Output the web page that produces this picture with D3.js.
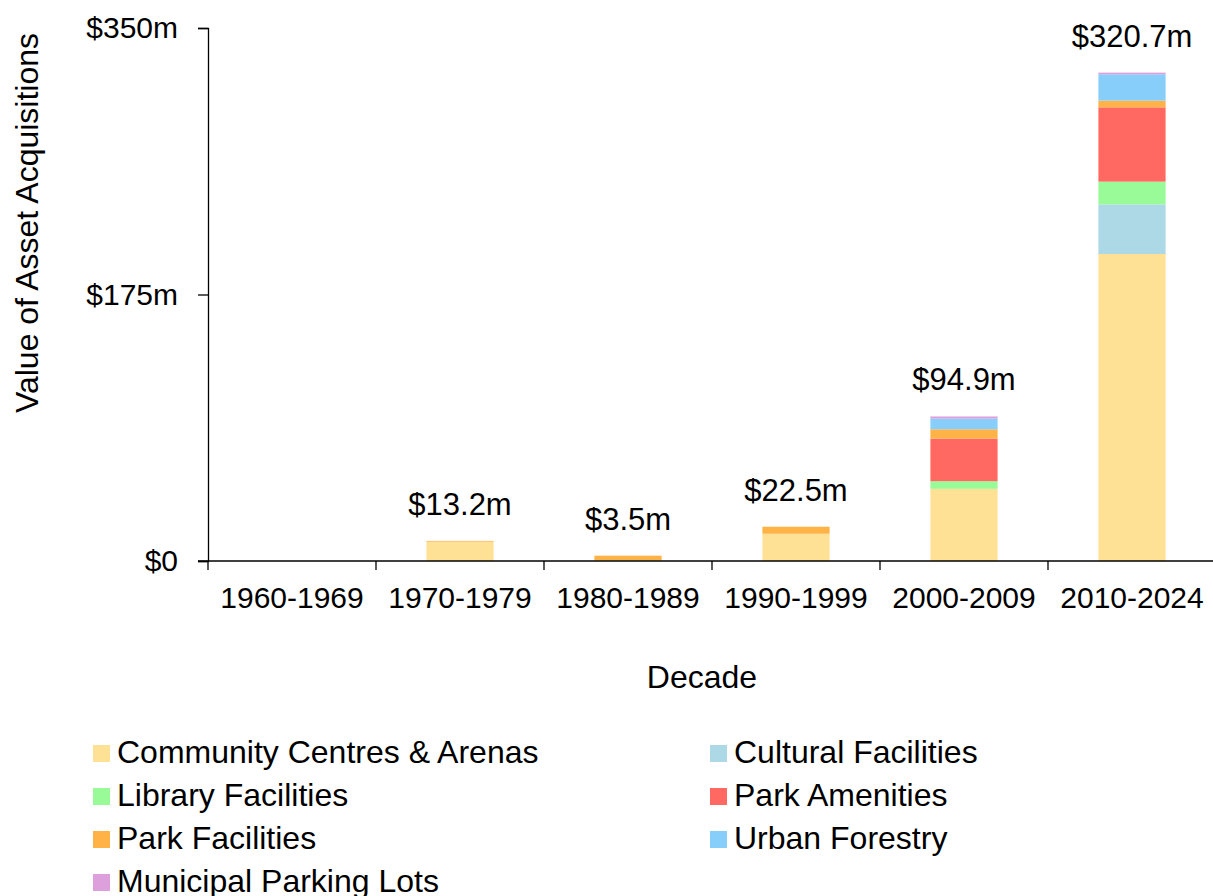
<!DOCTYPE html>
<html>
<head>
<meta charset="utf-8">
<script src="https://cdn.jsdelivr.net/npm/d3@7"></script>
<style>
  html, body { margin: 0; padding: 0; background: #fff; }
  svg { display: block; font-family: "Liberation Sans", Arial, sans-serif; }
</style>
</head>
<body>
<svg id="chart" width="1213" height="896"></svg>
<script>
// Decades on the x axis
const decades = ["1960-1969", "1970-1979", "1980-1989", "1990-1999", "2000-2009", "2010-2024"];

// Asset classes, in stacking order (bottom to top)
const assetClasses = [
  "Community Centres & Arenas",
  "Cultural Facilities",
  "Library Facilities",
  "Park Amenities",
  "Park Facilities",
  "Urban Forestry",
  "Municipal Parking Lots"
];
const classColors = ["#FFE195", "#ADD8E6", "#98FB98", "#FF6961", "#FFB347", "#87CEFA", "#DDA0DD"];

// Acquisition value per decade, $ millions
const communityCentres = [0, 12.7, 0.6, 17.9, 47.4, 201.6];
const culturalFacilities = [0, 0, 0, 0, 0, 32.6];
const libraryFacilities = [0, 0, 0, 0, 5.0, 14.9];
const parkAmenities = [0, 0, 0, 0, 28.0, 48.8];
const parkFacilities = [0, 0.5, 2.9, 4.6, 6.1, 4.4];
const urbanForestry = [0, 0, 0, 0, 7.0, 17.3];
const parkingLots = [0, 0, 0, 0, 1.4, 1.1];

// Totals shown above the bars
const totalLabels = [null, "$13.2m", "$3.5m", "$22.5m", "$94.9m", "$320.7m"];

// Y axis ticks
const yTicks = [0, 175, 350];
const yTickLabels = ["$0", "$175m", "$350m"];

const seriesValues = [communityCentres, culturalFacilities, libraryFacilities,
  parkAmenities, parkFacilities, urbanForestry, parkingLots];

const rows = decades.map((d, i) => {
  const r = { decade: d };
  assetClasses.forEach((c, k) => { r[c] = seriesValues[k][i]; });
  return r;
});

const svg = d3.select("#chart");
const plot = { left: 208, right: 1216, top: 28, bottom: 561 };

const x = d3.scaleBand().domain(decades).range([plot.left, plot.right]).paddingInner(0.6).paddingOuter(0.3);
const xTicks = d3.scaleBand().domain(decades).range([plot.left, plot.right]);
const y = d3.scaleLinear().domain([0, 350]).range([plot.bottom, plot.top]);

const stack = d3.stack().keys(assetClasses);
const layers = stack(rows);

// Stacked bars
svg.append("g").selectAll("g")
  .data(layers)
  .join("g")
  .attr("fill", (d, i) => classColors[i])
  .selectAll("rect")
  .data(d => d)
  .join("rect")
  .attr("x", d => x(d.data.decade))
  .attr("width", x.bandwidth())
  .attr("y", d => y(d[1]))
  .attr("height", d => y(d[0]) - y(d[1]));

// Y axis
const yAxis = svg.append("g")
  .attr("transform", `translate(${plot.left},0)`)
  .call(d3.axisLeft(y).tickValues(yTicks).tickFormat((d, i) => yTickLabels[i]).tickSizeOuter(0).tickSize(10).tickPadding(20));
yAxis.select(".domain").attr("stroke", "#000").attr("stroke-width", 1.3);
yAxis.selectAll(".tick line").attr("stroke", "#000").attr("stroke-width", 1.3);
yAxis.selectAll(".tick text").attr("font-size", 30).attr("fill", "#000")
  .attr("font-family", "Liberation Sans, Arial, sans-serif");

// X axis: ticks sit between the decades
const xAxisG = svg.append("g").attr("transform", `translate(0,${plot.bottom})`);
xAxisG.append("line")
  .attr("x1", plot.left - 10).attr("x2", plot.right)
  .attr("stroke", "#000").attr("stroke-width", 1.5);
xAxisG.selectAll("line.sep")
  .data(decades)
  .join("line")
  .attr("class", "sep")
  .attr("x1", d => xTicks(d)).attr("x2", d => xTicks(d))
  .attr("y1", 0).attr("y2", 9)
  .attr("stroke", "#000").attr("stroke-width", 1.3);
xAxisG.selectAll("text")
  .data(decades)
  .join("text")
  .attr("x", d => xTicks(d) + xTicks.bandwidth() / 2)
  .attr("y", 47)
  .attr("text-anchor", "middle")
  .attr("font-size", 30)
  .text(d => d);

// Totals above bars
const totals = rows.map((r, i) => ({ decade: r.decade, total: d3.sum(seriesValues, s => s[i]), label: totalLabels[i] }));
svg.append("g").selectAll("text")
  .data(totals.filter(d => d.label))
  .join("text")
  .attr("x", d => x(d.decade) + x.bandwidth() / 2)
  .attr("y", d => y(d.total) - 26)
  .attr("text-anchor", "middle")
  .attr("font-size", 31)
  .text(d => d.label);

// Axis titles
svg.append("text")
  .attr("x", 702).attr("y", 688)
  .attr("text-anchor", "middle")
  .attr("font-size", 32)
  .text("Decade");
svg.append("text")
  .attr("transform", `translate(38,223) rotate(-90)`)
  .attr("text-anchor", "middle")
  .attr("font-size", 32)
  .text("Value of Asset Acquisitions");

// Legend, two columns
const legend = svg.append("g");
const legendItems = legend.selectAll("g")
  .data(assetClasses)
  .join("g")
  .attr("transform", (d, i) => `translate(${i % 2 === 0 ? 93 : 710},${763 + Math.floor(i / 2) * 43})`);
legendItems.append("rect")
  .attr("x", 0).attr("y", -18).attr("width", 17).attr("height", 17)
  .attr("fill", (d, i) => classColors[i]);
legendItems.append("text")
  .attr("x", 24).attr("y", 0)
  .attr("font-size", 32)
  .text(d => d);
</script>
</body>
</html>
